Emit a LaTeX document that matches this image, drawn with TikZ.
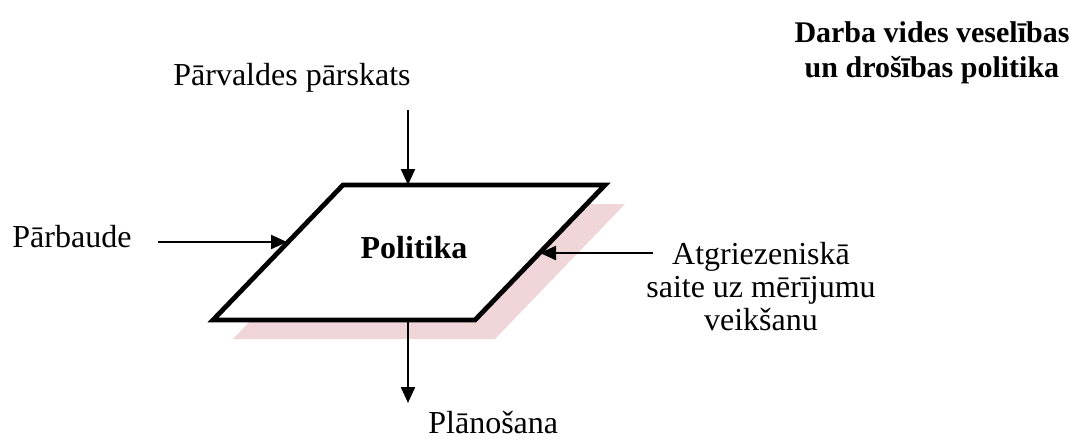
\documentclass[tikz,border=0pt]{standalone}
\usepackage{fontspec}
\setmainfont{Liberation Serif}
\usetikzlibrary{arrows.meta}

\definecolor{shadowpink}{RGB}{240,214,216}

\begin{document}
\begin{tikzpicture}
		[x=0.5pt, y=-0.5pt,
		 lbl/.style={font=\fontsize{16}{16.5}\selectfont, inner sep=0pt},
		 feed/.style={-{Triangle[length=8pt,width=7pt]}, line width=1.1pt}]
			\useasboundingbox (0,0) rectangle (1071,440);
			% corners of the policy box
			\coordinate (tl) at (343,185);
			\coordinate (tr) at (605,185);
			\coordinate (br) at (475,320);
			\coordinate (bl) at (213,320);
			\fill[shadowpink] (363,204) -- (625,204) -- (495,339) -- (233,339) -- cycle;
			\draw[line width=2.4pt, line join=miter, fill=white] (tl) -- (tr) -- (br) -- (bl) -- cycle;
			\node[lbl, font=\fontsize{16}{16.5}\selectfont\bfseries, anchor=base] (pol) at (414,258) {Politika};
			% where the arrows meet the box
			\coordinate (tin) at (408,185);
			\coordinate (lin) at (287,242);
			\coordinate (rin) at (540,253);
			\coordinate (bout) at (408,320);
			\coordinate (bend) at (408,403);
			\coordinate (fbsrc) at (653,253);
			% labels
			\node[lbl, anchor=base] (rev) at (292,85) {Pārvaldes pārskats};
			\node[lbl, anchor=base west] (chk) at (12,247) {Pārbaude};
			\node[lbl, align=center, anchor=base] (fb) at (761,330) {Atgriezeniskā\\saite uz mērījumu\\veikšanu};
			\node[lbl, anchor=base west] (plan) at (428,433) {Plānošana};
			\node[font=\fontsize{15}{17.5}\selectfont\bfseries, inner sep=0pt, align=center, anchor=base] (ttl) at (932,77) {Darba vides veselības\\un drošības politika};
			% arrows
			\draw[feed] ([yshift=-9pt]rev.south -| tin) -- (tin);
			\draw[feed] ([xshift=13pt]chk.east |- lin) -- (lin);
			\draw[feed] (fbsrc) -- (rin);
			\draw[feed] (bout) -- (bend);
	\end{tikzpicture}
\end{document}
